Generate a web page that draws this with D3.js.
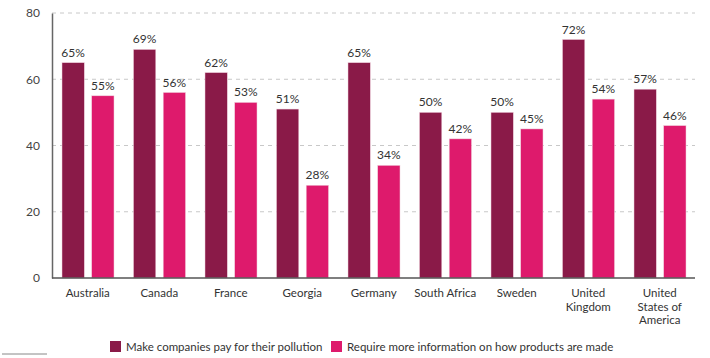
<!DOCTYPE html>
<html><head><meta charset="utf-8">
<script src="https://cdn.jsdelivr.net/npm/d3@7"></script>
<style>body{margin:0;background:#fff;} svg{display:block;font-family:Lato,"Open Sans",sans-serif;}</style>
</head><body><svg id="c" width="710" height="358"></svg>
<script>
const categories = [["Australia"],["Canada"],["France"],["Georgia"],["Germany"],["South Africa"],["Sweden"],["United","Kingdom"],["United","States of","America"]];
const payPollution = [65,69,62,51,65,50,50,72,57];
const moreInfo = [55,56,53,28,34,42,45,54,46];
const yTicks = [0,20,40,60,80];
const seriesNames = ["Make companies pay for their pollution","Require more information on how products are made"];
const colors = ["#8a1a48","#de1a6c"];

const svg = d3.select("#c");
const x = d3.scaleBand().domain(d3.range(categories.length)).range([52,695.5]).paddingInner(0).paddingOuter(0);
const y = d3.scaleLinear().domain([0,80]).range([278,13]);
const sub = d3.scaleBand().domain([0,1]).range([10,62]).paddingInner(0.25).paddingOuter(0);

// gridlines
svg.append("g").selectAll("line").data(yTicks.filter(d=>d>0)).join("line")
  .attr("x1",52).attr("x2",695).attr("y1",d=>y(d)).attr("y2",d=>y(d))
  .attr("stroke","#c8c8c8").attr("stroke-dasharray","4,4").attr("stroke-width",1);

// y axis
const ya = svg.append("g").attr("transform","translate(52,0)").call(d3.axisLeft(y).tickValues(yTicks).tickSize(0).tickPadding(12));
ya.select(".domain").attr("stroke","#666").attr("stroke-width",1.5);
ya.selectAll("text").attr("font-size",12).attr("fill","#444").attr("font-family","Lato");

const series = [payPollution, moreInfo];
series.forEach((vals,s)=>{
  const g = svg.append("g");
  g.selectAll("rect").data(vals).join("rect")
    .attr("x",(d,i)=>x(i)+sub(s)).attr("width",sub.bandwidth())
    .attr("y",d=>y(d)).attr("height",d=>y(0)-y(d))
    .attr("fill",colors[s]).attr("stroke","#f0d0dc").attr("stroke-width",0.5);
  g.selectAll("text").data(vals).join("text")
    .attr("x",(d,i)=>x(i)+sub(s)+sub.bandwidth()/2).attr("y",d=>y(d)-6)
    .attr("text-anchor","middle").attr("font-size",12).attr("fill","#333").text(d=>d+"%");
});

// baseline
svg.append("line").attr("x1",52).attr("x2",695).attr("y1",y(0)).attr("y2",y(0)).attr("stroke","#555").attr("stroke-width",1.5);

// category labels
const cl = svg.append("g");
categories.forEach((lines,i)=>{
  const t = cl.append("text").attr("text-anchor","middle").attr("font-size",11.5).attr("fill","#333");
  lines.forEach((ln,j)=>t.append("tspan").attr("x",x(i)+x.bandwidth()/2).attr("y",297+j*13.5).text(ln));
});

// legend
const legX = [110,331];
seriesNames.forEach((n,s)=>{
  svg.append("rect").attr("x",legX[s]).attr("y",341).attr("width",11).attr("height",11).attr("fill",colors[s]);
  svg.append("text").attr("x",legX[s]+16).attr("y",351).attr("font-size",11.5).attr("fill","#333").text(n);
});

// small rule bottom left
svg.append("line").attr("x1",2).attr("x2",47).attr("y1",354).attr("y2",354).attr("stroke","#888").attr("stroke-width",1);
</script></body></html>
